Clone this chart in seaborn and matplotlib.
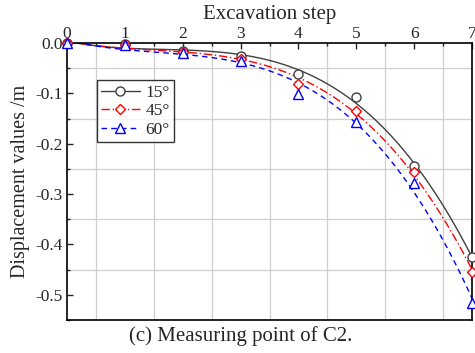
import numpy as np
import seaborn as sns
import matplotlib.pyplot as plt
from matplotlib.lines import Line2D
from matplotlib.ticker import MultipleLocator

# data
steps = [0, 1, 2, 3, 4, 5, 6, 7]
d15 = [0.0, -0.002, -0.016, -0.026, -0.061, -0.107, -0.244, -0.425]
d45 = [0.0, -0.003, -0.018, -0.032, -0.081, -0.135, -0.256, -0.454]
d60 = [0.0, -0.004, -0.020, -0.036, -0.101, -0.157, -0.278, -0.516]
labels = ['15°', '45°', '60°']

sns.set_style('white')
plt.rcParams['font.family'] = ['Liberation Serif', 'DejaVu Serif']

fig = plt.figure(figsize=(4.75, 3.53), dpi=100)
ax = fig.add_axes([67 / 475, 1 - 320 / 353, 405 / 475, 277 / 353])

series = [
    (d15, '#404040', 'o', '-'),
    (d45, 'red', 'D', (0, (6, 2, 1, 2))),
    (d60, 'blue', '^', (0, (4, 3))),
]
handles = []
for vals, col, mk, ls in series:
    sns.regplot(x=np.array(steps), y=np.array(vals), order=3, ci=None, scatter=False,
                truncate=True, ax=ax, line_kws=dict(color=col, lw=1.0, linestyle=ls))
    ms = 5.5 if mk == 'D' else 6.5
    ax.plot(steps, vals, linestyle='none', marker=mk, ms=ms, mfc='white',
            mec=col, mew=1.0, zorder=5, clip_on=False)
    handles.append(Line2D([], [], color=col, lw=1.0, linestyle=ls, marker=mk,
                          ms=ms, mfc='white', mec=col, mew=1.0))

ax.set_xlim(0, 7)
ax.set_ylim(-0.55, 0)
ax.xaxis.set_major_locator(MultipleLocator(1))
ax.xaxis.set_minor_locator(MultipleLocator(0.5))
ax.yaxis.set_major_locator(MultipleLocator(0.1))
ax.yaxis.set_minor_locator(MultipleLocator(0.05))
ax.yaxis.set_major_formatter(plt.FuncFormatter(lambda v, p: f'{v:.1f}'))
ax.xaxis.tick_top()
ax.xaxis.set_label_position('top')
ax.tick_params(axis='x', which='both', direction='in', top=True, bottom=False,
               labelsize=12.5, pad=1)
ax.tick_params(axis='y', which='both', direction='in', left=True, right=False,
               labelsize=12.5, pad=3)
ax.tick_params(which='major', length=4, width=1)
ax.tick_params(which='minor', length=2.5, width=1)
ax.grid(which='minor', color='#cfcfcf', lw=0.9)
ax.grid(which='major', visible=False)
for s in ax.spines.values():
    s.set_color('black')
    s.set_linewidth(1.2)

ax.set_xlabel('Excavation step', fontsize=15, labelpad=5)
ax.set_ylabel('Displacement values /m', fontsize=14.5, labelpad=4)

leg = ax.legend(handles, labels, loc='upper left', bbox_to_anchor=(0.074, 0.866),
                fontsize=12.5, frameon=True, fancybox=False, edgecolor='black',
                handlelength=2.2, handletextpad=0.35, borderpad=0.25, labelspacing=0.15,
                borderaxespad=0)
leg.get_frame().set_linewidth(1.0)

fig.text(241 / 475, 1 - 336 / 353, '(c) Measuring point of C2.',
         ha='center', va='center', fontsize=15)

fig.savefig('out.png', dpi=100)
